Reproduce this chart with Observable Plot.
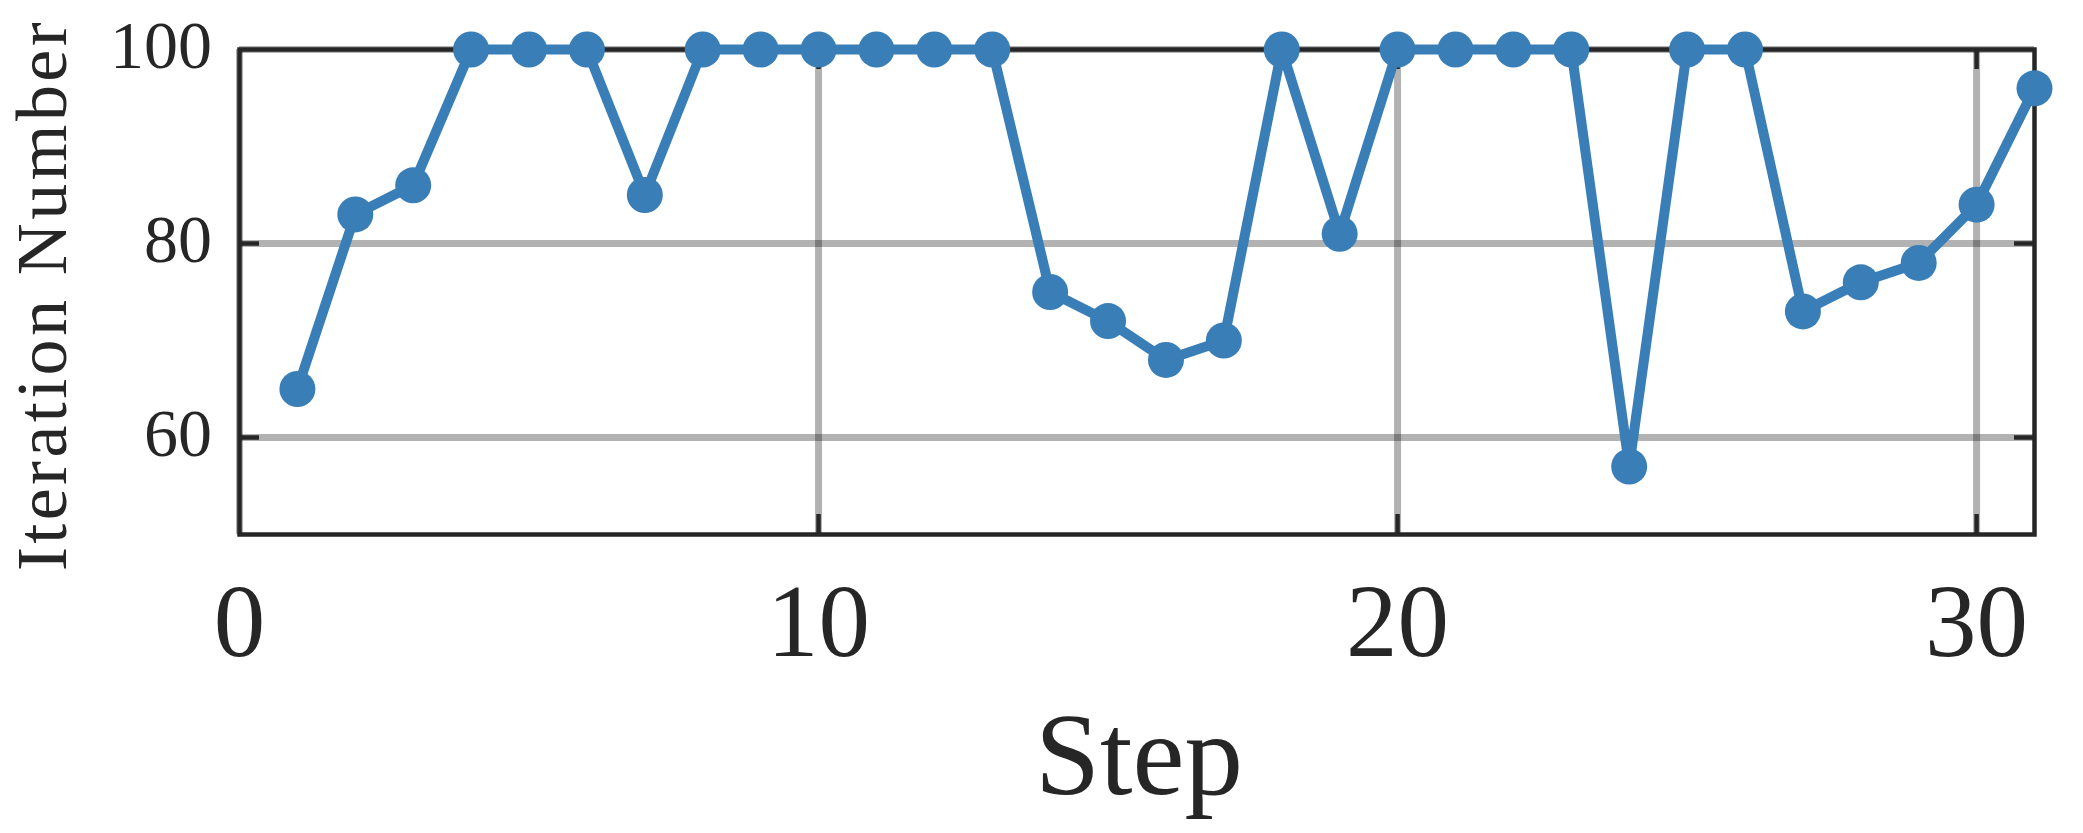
<!DOCTYPE html>
<html>
<head>
<meta charset="utf-8">
<script src="https://cdn.jsdelivr.net/npm/d3@7"></script>
<script src="https://cdn.jsdelivr.net/npm/@observablehq/plot@0.6"></script>
<style>
  html, body { margin: 0; padding: 0; background: #fff; }
  #chart svg { display: block; }
</style>
</head>
<body>
<div id="chart"></div>
<script>
// ---- data ----
const steps = [1, 2, 3, 4, 5, 6, 7, 8, 9, 10, 11, 12, 13, 14, 15, 16, 17, 18, 19, 20, 21, 22, 23, 24, 25, 26, 27, 28, 29, 30, 31];
const iterations = [65, 83, 86, 100, 100, 100, 85, 100, 100, 100, 100, 100, 100, 75, 72, 68, 70, 100, 81, 100, 100, 100, 100, 57, 100, 100, 73, 76, 78, 84, 96];
const xTicks = [0, 10, 20, 30];
const yTicks = [60, 80, 100];
const xLabel = "Step";
const yLabel = "Iteration Number";

const rows = steps.map((s, i) => ({step: s, value: iterations[i]}));

const W = 2083, H = 833;
const mL = 239, mR = 49, mT = 49, mB = 299;
const plotW = W - mL - mR, plotH = H - mT - mB;
const ink = "#262626";
const blue = "#3a7eb8";
const tickLen = 20;

const svg = Plot.plot({
  width: W,
  height: H,
  marginLeft: mL,
  marginRight: mR,
  marginTop: mT,
  marginBottom: mB,
  style: {fontFamily: "'Liberation Serif', 'DejaVu Serif', serif", color: ink, background: "#fff"},
  x: {domain: [0, 31]},
  y: {domain: [50, 100]},
  marks: [
    // grid
    Plot.ruleX(xTicks, {x: d => d, stroke: "#000", strokeOpacity: 0.3, strokeWidth: 7}),
    Plot.ruleY(yTicks, {y: d => d, stroke: "#000", strokeOpacity: 0.3, strokeWidth: 7}),
    // frame
    Plot.frame({stroke: ink, strokeWidth: 4.5}),
    // inward ticks
    Plot.tickX(xTicks.filter(d => d > 0), {x: d => d, insetTop: plotH - tickLen, stroke: ink, strokeWidth: 4.5}),
    Plot.tickX(xTicks.filter(d => d > 0), {x: d => d, insetBottom: plotH - tickLen, stroke: ink, strokeWidth: 4.5}),
    Plot.tickY(yTicks.filter(d => d < 100), {y: d => d, insetRight: plotW - tickLen, stroke: ink, strokeWidth: 4.5}),
    Plot.tickY(yTicks.filter(d => d < 100), {y: d => d, insetLeft: plotW - tickLen, stroke: ink, strokeWidth: 4.5}),
    // axes (labels only)
    Plot.axisX(xTicks, {anchor: "bottom", tickSize: 0, tickPadding: 48, fontSize: 103, label: null, fill: ink}),
    Plot.axisY(yTicks, {anchor: "left", tickSize: 0, tickPadding: 27.5, fontSize: 68, dy: -3.3, label: null, fill: ink}),
    // axis titles
    Plot.text([xLabel], {frameAnchor: "bottom", text: d => d, fontSize: 117, lineAnchor: "middle", textAnchor: "middle", dx: 2, dy: 222, fill: ink}),
    Plot.text([yLabel], {frameAnchor: "left", text: d => d, fontSize: 72, rotate: -90, lineAnchor: "middle", textAnchor: "middle", dx: -197, dy: 3, fill: ink}),
    // data
    Plot.line(rows, {x: "step", y: "value", stroke: blue, strokeWidth: 10}),
    Plot.dot(rows, {x: "step", y: "value", r: 18, fill: blue, stroke: "none"})
  ]
});

// widen the y title a little to match the wider reference typeface
d3.select(svg).selectAll("text").filter(function() { return this.textContent === yLabel; })
  .style("letter-spacing", "3.4px");

document.getElementById("chart").appendChild(svg);
</script>
</body>
</html>
